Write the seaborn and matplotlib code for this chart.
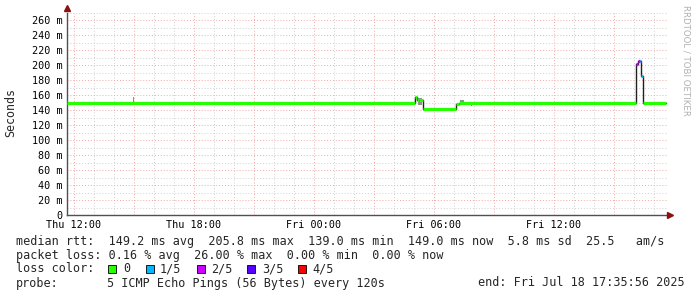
import numpy as np
import pandas as pd
import matplotlib
matplotlib.use("Agg")
import matplotlib.pyplot as plt
from matplotlib.patches import Rectangle
import seaborn as sns

# ---------------- data (hours since Thu 12:00, ms) ----------------
t_start = [-0.35, 17.05, 17.15, 17.25, 17.45, 19.10, 19.25, 28.10, 28.20, 28.30, 28.35, 28.45]
t_end = 29.6
median_ms = [149, 157, 154, 153, 141, 148, 149, 202, 205, 206, 185, 149]
loss_cls = [0, 0, 0, 0, 0, 0, 0, 2, 2, 1, 1, 0]

smoke_t0 = [2.95, 17.20, 19.30, 19.85]
smoke_t1 = [3.02, 17.40, 19.50, 19.90]
smoke_lo = [149, 147, 150, 146]
smoke_hi = [157, 156, 153, 149]

loss_labels = ["0", "1/5", "2/5", "3/5", "4/5"]
loss_colors = ["#26ff00", "#00b8ff", "#cc00ff", "#5500ff", "#ff0000"]

xtick_hours = [0, 6, 12, 18, 24]
xtick_labels = ["Thu 12:00", "Thu 18:00", "Fri 00:00", "Fri 06:00", "Fri 12:00"]
ytick_vals = list(range(0, 261, 20))

stats_lines = [
    "median rtt:  149.2 ms avg  205.8 ms max  139.0 ms min  149.0 ms now  5.8 ms sd  25.5   am/s",
    "packet loss: 0.16 % avg  26.00 % max  0.00 % min  0.00 % now",
]

# ---------------- figure ----------------
sns.set_theme(style="white")
plt.rcParams["font.family"] = ["DejaVu Sans Mono", "DejaVu Sans"]

W, H = 697, 297
fig = plt.figure(figsize=(W / 100, H / 100), dpi=100)
fig.patch.set_facecolor("white")

x0, x1 = 67, 668
ybot, ytop = 215, 12.5
ax = fig.add_axes([x0 / W, (H - ybot) / H, (x1 - x0) / W, (ybot - ytop) / H])
ax.set_facecolor("white")
ax.set_xlim(-0.35, -0.35 + (x1 - x0) / 20)
ax.set_ylim(0, 270)

# grids
minor_col = "#d0d0d0"
major_col = "#f2a8a8"
dot = (0, (1, 2))
for h in np.arange(0, 30, 1):
    if h % 3 != 0:
        ax.axvline(h, color=minor_col, lw=0.7, ls=dot, zorder=0)
for h in np.arange(0, 30, 3):
    ax.axvline(h, color=major_col, lw=0.7, ls=dot, zorder=0)
for v in range(10, 271, 20):
    ax.axhline(v, color=minor_col, lw=0.7, ls=dot, zorder=0)
for v in range(20, 261, 20):
    ax.axhline(v, color=major_col, lw=0.7, ls=dot, zorder=0)

# smoke
for a, b, lo, hi in zip(smoke_t0, smoke_t1, smoke_lo, smoke_hi):
    ax.fill_between([a, b], [lo, lo], [hi, hi], color="#909090", lw=0, zorder=1)

# median step line (black connectors)
df = pd.DataFrame({"t": t_start + [t_end], "ms": median_ms + [median_ms[-1]]})
sns.lineplot(data=df, x="t", y="ms", ax=ax, color="#202020", lw=1.0,
             drawstyle="steps-post", estimator=None, zorder=2)

# coloured median segments
t_next = t_start[1:] + [t_end]
ax.hlines(median_ms, t_start, t_next,
          colors=[loss_colors[c] for c in loss_cls], lw=2.3, zorder=3)

# axes styling
for s in ["top", "right"]:
    ax.spines[s].set_visible(False)
for s in ["left", "bottom"]:
    ax.spines[s].set_color("#505050")
    ax.spines[s].set_linewidth(1.0)
ax.set_xticks(xtick_hours)
ax.set_xticklabels(xtick_labels)
ax.set_yticks(ytick_vals)
ax.set_yticklabels(["0"] + [f"{v} m" for v in ytick_vals[1:]])
ax.tick_params(axis="both", labelsize=7.3, colors="#505050", labelcolor="black",
               length=3, width=0.8, direction="inout", pad=2)
ax.set_xlabel("")
ax.set_ylabel("")
ax.grid(False)

# arrows
ax.plot([-0.35], [276], marker="^", color="#8b1010", ms=4, clip_on=False, zorder=5)
ax.plot([(670 - 74) / 20], [0], marker=">", color="#8b1010", ms=4, clip_on=False, zorder=5)

# y label
fig.text(11 / W, 1 - 113 / H, "Seconds", rotation=90, va="center", ha="center",
         fontsize=8.4, family="DejaVu Sans Mono")

# watermark
fig.text(686 / W, 1 - 5 / H, "RRDTOOL / TOBI OETIKER", rotation=270, va="top", ha="center",
         fontsize=6.2, color="#b0b0b0", family="DejaVu Sans")

# legend text
fs = 8.5
def ftext(x, y, s, **kw):
    fig.text(x / W, 1 - y / H, s, va="center", ha="left", fontsize=fs,
             family="DejaVu Sans Mono", **kw)

ftext(16, 242, stats_lines[0])
ftext(16, 255, stats_lines[1])
ftext(16, 269, "loss color:")
sq_x = [108, 146, 197, 247, 298]
tx_x = [123, 160, 211, 262, 312]
for sx, tx, lab, col in zip(sq_x, tx_x, loss_labels, loss_colors):
    fig.patches.append(Rectangle((sx / W, 1 - 272.5 / H), 8 / W, 8 / H,
                                 transform=fig.transFigure, facecolor=col,
                                 edgecolor="black", lw=0.6))
    ftext(tx, 269, lab)
ftext(16, 283, "probe:")
ftext(107, 283, "5 ICMP Echo Pings (56 Bytes) every 120s")
ftext(478, 283, "end: Fri Jul 18 17:35:56 2025")

fig.savefig("out.png", dpi=100, facecolor="white")
